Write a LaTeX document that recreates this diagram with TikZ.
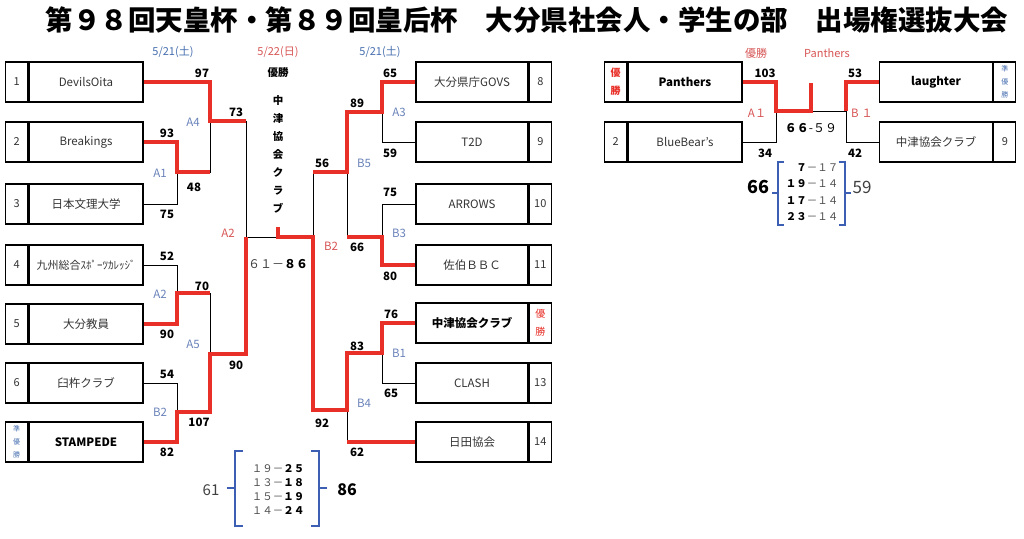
\documentclass[tikz,border=0pt]{standalone}
\usepackage{fontspec}
\setmainfont{Noto Sans CJK JP}
\usetikzlibrary{positioning}
\definecolor{winred}{RGB}{232,48,40}
\definecolor{datered}{RGB}{215,85,85}
\definecolor{gameblue}{RGB}{105,130,185}
\definecolor{dateblue}{RGB}{70,110,175}
\definecolor{brblue}{RGB}{60,95,180}
\tikzset{
  teambox/.style={draw, line width=1.3pt, minimum width=114pt, minimum height=40pt, inner sep=0pt, text=black!80, font=\fontsize{11.5}{13}\selectfont},
  seedbox/.style={draw, line width=1.3pt, minimum width=22pt, minimum height=40pt, inner sep=0pt, text=black!80, font=\fontsize{11}{13}\selectfont},
  tie/.style={line width=1pt},
  win/.style={winred, line width=3.4pt},
  pts/.style={font=\bfseries\fontsize{11.5}{13}\selectfont},
  game/.style={gameblue, font=\fontsize{11.5}{13}\selectfont},
  redgame/.style={datered, font=\fontsize{11.5}{13}\selectfont},
  setbrace/.style={brblue, line width=2pt},
}
\begin{document}
\begin{tikzpicture}[x=1pt,y=-1pt]
\useasboundingbox (0,0) rectangle (1024,538);
\node[font=\bfseries\fontsize{27.5}{30}\selectfont] (title) at (527,20) {第９８回天皇杯・第８９回皇后杯　大分県社会人・学生の部　出場権選抜大会};

% left teams
\node[teambox] (t1) at (86,82) {DevilsOita};
\node[seedbox, left=0pt of t1] (s1) {1};
\node[teambox] (t2) at (86,142) {Breakings};
\node[seedbox, left=0pt of t2] (s2) {2};
\node[teambox] (t3) at (86,204) {日本文理大学};
\node[seedbox, left=0pt of t3] (s3) {3};
\node[teambox, font=\fontsize{11}{13}\selectfont] (t4) at (86,265) {九州総合ｽﾎﾟｰﾂｶﾚｯｼﾞ};
\node[seedbox, left=0pt of t4] (s4) {4};
\node[teambox] (t5) at (86,324) {大分教員};
\node[seedbox, left=0pt of t5] (s5) {5};
\node[teambox] (t6) at (86,383) {臼杵クラブ};
\node[seedbox, left=0pt of t6] (s6) {6};
\node[teambox, text=black] (t7) at (86,442) {\textbf{STAMPEDE}};
\node[seedbox, left=0pt of t7, align=center, text=dateblue, font=\fontsize{7}{13}\selectfont] (s7) {準\\優\\勝};

% right teams
\node[teambox, minimum width=112pt] (t8) at (472,82) {大分県庁GOVS};
\node[seedbox, right=0pt of t8] (s8) {8};
\node[teambox, minimum width=112pt] (t9) at (472,142) {T2D};
\node[seedbox, right=0pt of t9] (s9) {9};
\node[teambox, minimum width=112pt] (t10) at (472,204) {ARROWS};
\node[seedbox, right=0pt of t10] (s10) {10};
\node[teambox, minimum width=112pt] (t11) at (472,265) {佐伯ＢＢＣ};
\node[seedbox, right=0pt of t11] (s11) {11};
\node[teambox, minimum width=112pt, text=black] (t12) at (472,323) {\textbf{中津協会クラブ}};
\node[seedbox, right=0pt of t12, align=center, text=winred, font=\fontsize{10}{18}\selectfont] (s12) {優\\勝};
\node[teambox, minimum width=112pt] (t13) at (472,383) {CLASH};
\node[seedbox, right=0pt of t13] (s13) {13};
\node[teambox, minimum width=112pt] (t14) at (472,442) {日田協会};
\node[seedbox, right=0pt of t14] (s14) {14};

% junctions
\coordinate (a1) at (177,172);
\coordinate (a4) at (210,121);
\coordinate (a2) at (177,293);
\coordinate (b2) at (177,412);
\coordinate (a5) at (210,354);
\coordinate (a3) at (382,112);
\coordinate (b3) at (382,237);
\coordinate (b5) at (347,172);
\coordinate (b1) at (382,353);
\coordinate (b4) at (347,410);
\coordinate (fl) at (246,237);
\coordinate (fr) at (313,237);
\coordinate (champ) at (278,237);
\coordinate (cup) at (278,227);

\draw[tie] (t2.east) -| (a1) (t3.east) -| (a1);
\draw[tie] (t1.east) -| (a4) (a1) -| (a4);
\draw[tie] (t4.east) -| (a2) (t5.east) -| (a2);
\draw[tie] (t6.east) -| (b2) (t7.east) -| (b2);
\draw[tie] (a2) -| (a5) (b2) -| (a5);
\draw[tie] (a4) -| (fl) (a5) -| (fl);
\draw[tie] (t8.west) -| (a3) (t9.west) -| (a3);
\draw[tie] (t10.west) -| (b3) (t11.west) -| (b3);
\draw[tie] (a3) -| (b5) (b3) -| (b5);
\draw[tie] (t12.west) -| (b1) (t13.west) -| (b1);
\draw[tie] (b1) -| (b4) (t14.west) -| (b4);
\draw[tie] (b5) -| (fr) (b4) -| (fr);
\draw[tie] (fl) -- (fr);

\draw[win] (t1.east) -| (a4) -- (a4 -| fl);
\draw[win] (t2.east) -| (a1) -- (a1 -| a4);
\draw[win] (t5.east) -| (a2) -- (a2 -| a5);
\draw[win] (t7.east) -| (b2) -- (b2 -| a5) -- (a5) -- (a5 -| fl) -- (fl);
\draw[win] (t8.west) -| (a3) -- (a3 -| b5) -- (b5) -- (b5 -| fr);
\draw[win] (t11.west) -| (b3) -- (b3 -| b5);
\draw[win] (t12.west) -| (b1) -- (b1 -| b4) -- (b4) -- (b4 -| fr) -- (fr) -- (champ) -- (cup);
\draw[win] (t14.west) -- (t14.west -| b4);

% points
\node[pts] at (202,73) {97};
\node[pts] at (167,133) {93};
\node[pts] at (194,187) {48};
\node[pts] at (167,214) {75};
\node[pts] at (236,112) {73};
\node[pts] at (167,256) {52};
\node[pts] at (202,286) {70};
\node[pts] at (167,334) {90};
\node[pts] at (236,365) {90};
\node[pts] at (167,374) {54};
\node[pts] at (199,422) {107};
\node[pts] at (167,452) {82};
\node[pts] at (390,73) {65};
\node[pts] at (357,103) {89};
\node[pts] at (390,153) {59};
\node[pts] at (322,163) {56};
\node[pts] at (390,192) {75};
\node[pts] at (357,247) {66};
\node[pts] at (390,276) {80};
\node[pts] at (391,314) {76};
\node[pts] at (357,346) {83};
\node[pts] at (391,393) {65};
\node[pts] at (322,423) {92};
\node[pts] at (357,452) {62};

% games
\node[game] at (193,122) {A4};
\node[game] at (160,173) {A1};
\node[game] at (160,294) {A2};
\node[game] at (193,344) {A5};
\node[game] at (160,412) {B2};
\node[game] at (399,112) {A3};
\node[game] at (364,163) {B5};
\node[game] at (399,233) {B3};
\node[game] at (399,353) {B1};
\node[game] at (364,403) {B4};
\node[redgame] at (228,233) {A2};
\node[redgame] at (331,246) {B2};

\node[text=dateblue, font=\fontsize{11}{13}\selectfont] (d1) at (173,52) {5/21(土)};
\node[text=dateblue, font=\fontsize{11}{13}\selectfont] (d2) at (380,52) {5/21(土)};
\node[text=datered, font=\fontsize{11}{13}\selectfont] (d3) at (278,52) {5/22(日)};
\node[font=\bfseries\fontsize{10.5}{13}\selectfont] (win) at (278,73) {優勝};
\node[align=center, font=\bfseries\fontsize{10.5}{18}\selectfont] (winner) at (278,154) {中\\津\\協\\会\\ク\\ラ\\ブ};
\node[text=black!75, font=\fontsize{12}{14}\selectfont] (final) at (278,264) {６１－\textbf{\color{black}８６}};

% sets
\draw[setbrace] (243,451) -- (235,451) -- (235,526) -- (243,526);
\draw[setbrace] (235,488) -- (227,488);
\draw[setbrace] (311,451) -- (319,451) -- (319,526) -- (311,526);
\draw[setbrace] (319,488) -- (327,488);
\node[align=center, text=black!70, font=\fontsize{10.5}{14}\selectfont] (sets) at (278,490) {１９－\textbf{\color{black}２５}\\１３－\textbf{\color{black}１８}\\１５－\textbf{\color{black}１９}\\１４－\textbf{\color{black}２４}};
\node[text=black!75, font=\fontsize{15}{17}\selectfont] (lsum) at (211,490) {61};
\node[font=\bfseries\fontsize{16}{18}\selectfont] (rsum) at (347,490) {86};

% women
\node[teambox, text=black] (p1) at (685,82) {\textbf{Panthers}};
\node[seedbox, left=0pt of p1, align=center, text=winred, font=\bfseries\fontsize{10}{18}\selectfont] (ps1) {優\\勝};
\node[teambox] (p2) at (685,142) {BlueBear's};
\node[seedbox, left=0pt of p2] (ps2) {2};
\node[teambox, minimum width=113pt, text=black] (q1) at (936,82) {\textbf{laughter}};
\node[seedbox, right=0pt of q1, align=center, text=dateblue, font=\fontsize{7}{13}\selectfont] (qs1) {準\\優\\勝};
\node[teambox, minimum width=113pt] (q2) at (936,142) {中津協会クラブ};
\node[seedbox, right=0pt of q2] (qs2) {9};

\coordinate (ra1) at (776,111);
\coordinate (rb1) at (846,111);
\coordinate (rchamp) at (811,111);
\coordinate (rcup) at (811,83);
\draw[tie] (p1.east) -| (ra1) (p2.east) -| (ra1);
\draw[tie] (q1.west) -| (rb1) (q2.west) -| (rb1);
\draw[tie] (ra1) -- (rb1);
\draw[win] (p1.east) -| (ra1) -- (rchamp) -- (rcup);
\draw[win] (q1.west) -| (rb1);

\node[text=datered, font=\fontsize{11}{13}\selectfont] at (756,53) {優勝};
\node[text=datered, font=\fontsize{11}{13}\selectfont] at (827,53) {Panthers};
\node[pts] at (765,73) {103};
\node[pts] at (855,73) {53};
\node[pts] at (765,153) {34};
\node[pts] at (855,153) {42};
\node[redgame] at (757,113) {A１};
\node[redgame] at (862,113) {B １};
\node[font=\fontsize{12}{13}\selectfont] (rfinal) at (811,128) {\textbf{６６}-５９};

\draw[setbrace] (784,162) -- (778,162) -- (778,225) -- (784,225);
\draw[setbrace] (778,193) -- (772,193);
\draw[setbrace] (839,162) -- (845,162) -- (845,225) -- (839,225);
\draw[setbrace] (845,193) -- (851,193);
\node[align=center, text=black!70, font=\fontsize{10.5}{16.5}\selectfont] (rsets) at (812,192) {\textbf{\color{black}　７}－１７\\\textbf{\color{black}１９}－１４\\\textbf{\color{black}１７}－１４\\\textbf{\color{black}２３}－１４};
\node[font=\bfseries\fontsize{18}{20}\selectfont] (rlsum) at (758,187) {66};
\node[text=black!75, font=\fontsize{17}{19}\selectfont] (rrsum) at (862,187) {59};
\end{tikzpicture}
\end{document}
